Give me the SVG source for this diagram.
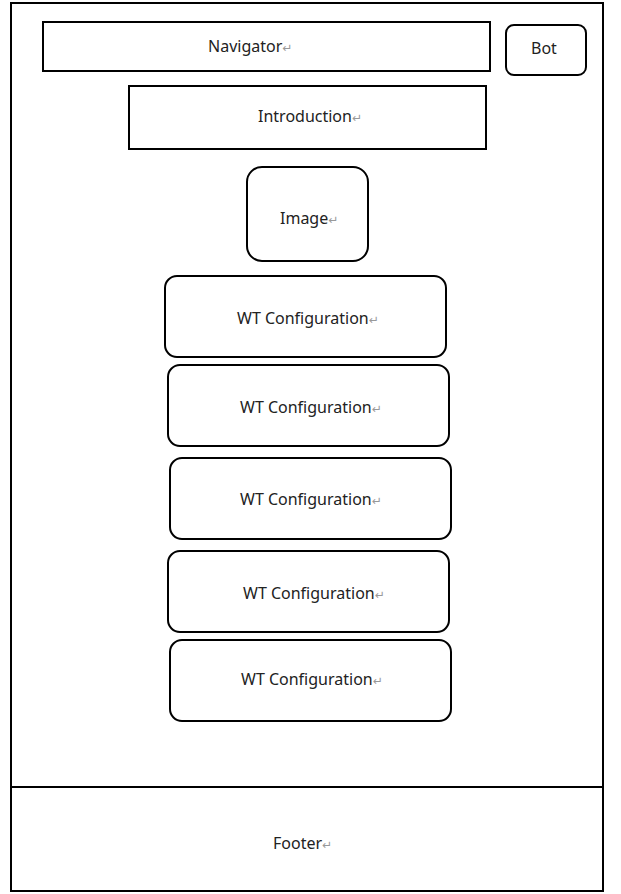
<svg xmlns="http://www.w3.org/2000/svg" width="621" height="894" viewBox="0 0 621 894">
<style>
.box{fill:#fff;stroke:#000;stroke-width:2}
.lbl{font-family:"Noto Sans","Liberation Sans",Arial,sans-serif;font-size:16px;fill:#222}
.pm{font-family:"DejaVu Sans",sans-serif;font-size:12px;fill:#999}
</style>
<rect width="621" height="894" fill="#fff"/>
<g id="page">
<rect class="box" x="11" y="3" width="592" height="888"/>
</g>
<g id="footer">
<rect class="box" x="11" y="787" width="592" height="104"/>
<text class="lbl" x="273" y="849">Footer<tspan class="pm">↵</tspan></text>
</g>
<g id="navigator">
<rect class="box" x="43" y="22" width="447" height="49"/>
<text class="lbl" x="208" y="52">Navigator<tspan class="pm">↵</tspan></text>
</g>
<g id="bot">
<rect class="box" x="506" y="25" width="80" height="50" rx="8"/>
<text class="lbl" x="531" y="54">Bot</text>
</g>
<g id="introduction">
<rect class="box" x="129" y="86" width="357" height="63"/>
<text class="lbl" x="258" y="122">Introduction<tspan class="pm">↵</tspan></text>
</g>
<g id="image">
<rect class="box" x="247" y="167" width="121" height="94" rx="15"/>
<text class="lbl" x="280" y="224">Image<tspan class="pm">↵</tspan></text>
</g>
<g id="wt1">
<rect class="box" x="165" y="276" width="281" height="81" rx="12"/>
<text class="lbl" x="237" y="324">WT Configuration<tspan class="pm">↵</tspan></text>
</g>
<g id="wt2">
<rect class="box" x="168" y="365" width="281" height="81" rx="12"/>
<text class="lbl" x="240" y="413">WT Configuration<tspan class="pm">↵</tspan></text>
</g>
<g id="wt3">
<rect class="box" x="170" y="458" width="281" height="81" rx="12"/>
<text class="lbl" x="240" y="505">WT Configuration<tspan class="pm">↵</tspan></text>
</g>
<g id="wt4">
<rect class="box" x="168" y="551" width="281" height="81" rx="12"/>
<text class="lbl" x="243" y="599">WT Configuration<tspan class="pm">↵</tspan></text>
</g>
<g id="wt5">
<rect class="box" x="170" y="640" width="281" height="81" rx="12"/>
<text class="lbl" x="241" y="685">WT Configuration<tspan class="pm">↵</tspan></text>
</g>
<g id="connectors"></g>
</svg>
